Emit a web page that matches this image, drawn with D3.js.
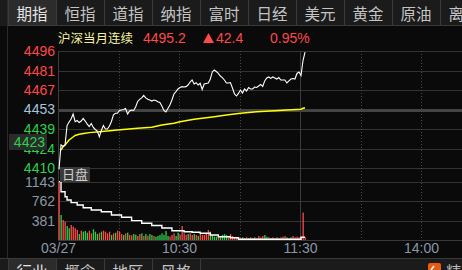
<!DOCTYPE html>
<html>
<head>
<meta charset="utf-8">
<script src="https://cdn.jsdelivr.net/npm/d3@7"></script>
<style>
  html, body { margin:0; padding:0; background:#0a0a0a; overflow:hidden; }
  svg { display:block; font-family:"Liberation Sans", Arial, "Noto Sans CJK SC", sans-serif; }
  .num { font-family:"Liberation Sans Narrow", "Arial Narrow", "Liberation Sans", sans-serif; }
  .cjk { font-family:"Noto Sans CJK SC", sans-serif; }
</style>
</head>
<body>
<div id="chart"></div>
<script>
// DATA
const topTabs = ["期指","恒指","道指","纳指","富时","日经","美元","黄金","原油","离岸"];
const bottomTabs = ["行业","概念","地区","风格"];
const title = "沪深当月连续";
const lastPrice = "4495.2", change = "42.4", changePct = "0.95%";

const priceTicks = [4496, 4481, 4467, 4453, 4439, 4424, 4410];
const volTicks = [1143, 762, 381];
const timeTicks = [0, 60, 120, 180];
const timeLabels = ["03/27", "10:30", "11:30", "14:00"];
const dottedMinutes = [30, 60, 90, 150, 180, 210];

// minute-by-minute price since 9:30 (index = minute)
const prices = [4409,4427,4425.8,4427,4441.2,4443.8,4446,4449.7,4444,4444.9,
  4443.4,4444.5,4446.4,4444.5,4442.3,4440.5,4442.7,4439.8,4438.3,4437.2,
  4433,4437.6,4441.2,4438.7,4438.7,4440.9,4444.2,4449,4450.2,4450.2,
  4452.3,4452.6,4453,4453.7,4449.7,4451.9,4452.6,4452.3,4454.8,4458.9,
  4460.4,4461.5,4463.3,4461.5,4460.5,4460,4459.2,4460,4459.6,4458.7,
  4458.1,4455.6,4452.3,4451.2,4453.7,4456.3,4460,4464.4,4466.2,4468.1,
  4469.2,4469.8,4469.5,4469.8,4471,4473.2,4474.7,4471.7,4472.7,4471,
  4472.3,4467.7,4471.7,4472.1,4472.5,4475.2,4480.6,4482,4480.9,4479.6,
  4477.6,4476.5,4474.7,4472.5,4472.5,4472.8,4468.8,4464.4,4462.9,4464.8,
  4467.3,4465.1,4468.1,4466.6,4469.2,4468.1,4468.1,4469.5,4469.2,4470.3,
  4471.4,4469.9,4474,4476.2,4476.9,4475.9,4476.9,4476.2,4475.4,4476.5,
  4474.7,4474.7,4474.7,4472.5,4474,4475.4,4475.8,4475.4,4479.5,4480.6,
  4478,4489,4495.2];

// average price line (minute, value)
const avgMinutes = [1,2,3,5,7,8,10,13,15,20,29,39,46,51,57,60,67,77,83,90,98,107,113,120,121,122];
const avgValues = [4423.2,4425.7,4426.9,4430.6,4432.8,4433.9,4434.8,4435.5,4436,4436.7,
  4437.9,4439.2,4439.9,4441.6,4442.9,4444,4445.8,4447.7,4449,4450.2,4451.4,4452.1,
  4452.7,4453.2,4453.9,4454.3];

// volume per minute and direction (1 = up/red, 0 = down/green)
const volumes = [1150,493,394,361,276,231,296,262,231,197,
  118,184,164,177,144,184,131,211,164,118,
  144,164,184,164,131,164,98,131,144,184,
  164,118,98,131,144,98,92,118,105,79,
  118,131,79,118,85,118,99,79,66,79,
  99,131,99,177,79,66,99,131,79,144,
  105,276,131,99,118,131,99,118,99,79,
  118,99,99,131,197,164,99,66,66,53,
  66,99,118,99,66,118,79,53,40,53,
  40,53,40,53,40,53,40,53,40,79,
  53,79,99,66,53,40,53,40,53,40,
  53,66,79,53,40,53,79,53,66,53,
  66,540,53];
const volUp = [1,0,1,1,0,0,1,1,1,1,
  0,1,0,0,0,1,1,0,0,0,
  1,0,1,1,1,1,0,1,0,1,
  1,1,0,1,0,1,1,0,0,1,
  1,0,1,0,1,0,0,1,0,0,
  0,0,0,0,0,1,1,1,0,0,
  1,1,1,1,0,1,1,0,1,0,
  1,1,1,1,1,0,0,0,0,1,
  0,0,0,0,1,1,1,1,1,0,
  1,0,1,1,0,1,1,0,1,1,
  1,1,0,0,1,0,1,1,0,1,
  1,1,1,0,1,0,1,1,1,1,
  1,1,1];

// open interest line in the volume panel (minute, value)
const holdMinutes = [0,1,3,4,6,9,12,16,21,26,31,36,41,46,51,56,62,66,70,75,79,85,89,119,120,122];
const holdValues = [1150,950,852,789,736,690,637,592,558,493,448,381,329,286,237,183,164,152,132,99,65,45,14,14,53,53];

// LAYOUT
const W = 462, H = 270;
const plotLeft = 58, plotRight = W;
const priceTop = 51, priceBottom = 168;
const volTop = 182, volBottom = 240;

const RED = "#ff4848", GREEN = "#2ad24a", GRID = "#333", AXIS_TXT = "#8a97a6";

const svg = d3.select("#chart").append("svg").attr("width", W).attr("height", H);
svg.append("rect").attr("width", W).attr("height", H).attr("fill", "#0a0a0a");

const x = d3.scaleLinear().domain([0, 240]).range([plotLeft, plotLeft + 484]);
const y = d3.scaleLinear().domain([4410, 4496]).range([priceBottom, priceTop]);
const yVol = d3.scaleLinear().domain([0, 1143]).range([volBottom, volTop]);
const yHold = d3.scaleLinear().domain([0, 1143]).range([volBottom, volTop]);

// top tabs
const tabW = 48, tabX0 = 8, tabH = 26;
const gTop = svg.append("g");
gTop.append("rect").attr("width", W).attr("height", tabH).attr("fill", "#1b1b1b");
gTop.selectAll("rect.tab").data(topTabs).enter().append("rect")
  .attr("class", "tab")
  .attr("x", (d, i) => tabX0 + i * tabW + 0.5).attr("y", -1)
  .attr("width", tabW).attr("height", tabH + 0.5)
  .attr("fill", (d, i) => i === 0 ? "#2c2c2c" : "#1b1b1b")
  .attr("stroke", "#3a3a3a");
gTop.selectAll("text").data(topTabs).enter().append("text")
  .attr("class", "cjk")
  .attr("x", (d, i) => tabX0 + i * tabW + tabW / 2).attr("y", 20)
  .attr("text-anchor", "middle")
  .attr("font-size", 15.5)
  .attr("fill", (d, i) => i === 0 ? "#e6e6e6" : "#c4c4c4")
  .text(d => d);
svg.append("line").attr("x1", 7.5).attr("x2", 7.5).attr("y1", 0).attr("y2", 258).attr("stroke", "#2a2a2a");

// header
const gHead = svg.append("g");
gHead.append("text").attr("class", "cjk").attr("x", 58).attr("y", 43).attr("font-size", 12.5).attr("fill", "#f4f1a0").text(title);
gHead.append("text").attr("class", "num").attr("x", 143).attr("y", 43).attr("font-size", 14).attr("fill", RED).text(lastPrice);
gHead.append("path").attr("d", "M203,43 L208.5,33 L214,43 Z").attr("fill", RED);
gHead.append("text").attr("class", "num").attr("x", 216).attr("y", 43).attr("font-size", 14).attr("fill", RED).text(change);
gHead.append("text").attr("class", "num").attr("x", 270).attr("y", 43).attr("font-size", 14).attr("fill", RED).text(changePct);

// grid
const grid = svg.append("g");
grid.selectAll("line.ph").data(priceTicks).enter().append("line")
  .attr("x1", plotLeft).attr("x2", plotRight)
  .attr("y1", d => Math.round(y(d)) + 0.5).attr("y2", d => Math.round(y(d)) + 0.5)
  .attr("stroke", d => d === 4453 ? "#444" : GRID)
  .attr("stroke-width", d => d === 4453 ? 3 : 1);
grid.selectAll("line.vh").data(volTicks).enter().append("line")
  .attr("x1", plotLeft).attr("x2", plotRight)
  .attr("y1", d => Math.round(yVol(d)) + 0.5).attr("y2", d => Math.round(yVol(d)) + 0.5)
  .attr("stroke", GRID);
grid.append("line").attr("x1", plotLeft).attr("x2", plotRight)
  .attr("y1", volBottom + 0.5).attr("y2", volBottom + 0.5).attr("stroke", "#3a3a3a");
grid.selectAll("line.dot").data(dottedMinutes).enter().append("line")
  .attr("x1", d => Math.round(x(d)) + 0.5).attr("x2", d => Math.round(x(d)) + 0.5)
  .attr("y1", priceTop).attr("y2", volBottom)
  .attr("stroke", "#4a4a4a").attr("stroke-dasharray", "1,2");
grid.append("line").attr("x1", Math.round(x(120)) + 0.5).attr("x2", Math.round(x(120)) + 0.5)
  .attr("y1", priceTop).attr("y2", volBottom).attr("stroke", "#3c3c3c");
grid.append("line").attr("x1", plotLeft + 0.5).attr("x2", plotLeft + 0.5)
  .attr("y1", priceTop).attr("y2", volBottom).attr("stroke", "#3c3c3c");

// price axis labels
const yAxisG = svg.append("g").attr("transform", `translate(${plotLeft - 2},0)`)
  .call(d3.axisLeft(y).tickValues(priceTicks).tickSize(0).tickPadding(1).tickFormat(d3.format("d")));
yAxisG.select(".domain").remove();
yAxisG.attr("font-family", null).attr("font-size", null);
yAxisG.selectAll("text").attr("class", "num").attr("font-size", 14)
  .attr("fill", d => d > 4453 ? RED : d < 4453 ? GREEN : "#a9c3dc");

// volume axis labels
const vAxisG = svg.append("g").attr("transform", `translate(${plotLeft - 2},0)`)
  .call(d3.axisLeft(yVol).tickValues(volTicks).tickSize(0).tickPadding(1).tickFormat(d3.format("d")));
vAxisG.select(".domain").remove();
vAxisG.attr("font-family", null).attr("font-size", null);
vAxisG.selectAll("text").attr("class", "num").attr("font-size", 14).attr("fill", AXIS_TXT);

// volume bars
svg.append("g").selectAll("rect").data(volumes).enter().append("rect")
  .attr("x", (d, i) => x(i) + 0.5)
  .attr("y", d => yVol(d))
  .attr("width", 1.3)
  .attr("height", d => volBottom - yVol(d))
  .attr("fill", (d, i) => volUp[i] ? RED : GREEN);

// open interest line
svg.append("path")
  .datum(holdMinutes.map((m, i) => [m, holdValues[i]]))
  .attr("fill", "none").attr("stroke", "#fff").attr("stroke-width", 1.4)
  .attr("d", d3.line().x(d => x(d[0]) + 1).y(d => yHold(d[1])).curve(d3.curveStepAfter));

// average line
svg.append("path")
  .datum(avgMinutes.map((m, i) => [m, avgValues[i]]))
  .attr("fill", "none").attr("stroke", "#ffff00").attr("stroke-width", 1.5)
  .attr("d", d3.line().x(d => x(d[0]) + 1).y(d => y(d[1])));

// price line
svg.append("path")
  .datum(prices)
  .attr("fill", "none").attr("stroke", "#fff").attr("stroke-width", 1.1)
  .attr("d", d3.line().x((d, i) => x(i) + 1).y(d => y(d)));

// 日盘 label
svg.append("rect").attr("x", 60).attr("y", 167).attr("width", 30).attr("height", 15).attr("fill", "#3a3a3a");
svg.append("text").attr("class", "cjk").attr("x", 75).attr("y", 179).attr("text-anchor", "middle")
  .attr("font-size", 13).attr("fill", "#cfcfcf").text("日盘");

// current value box
svg.append("rect").attr("x", 9).attr("y", 134).attr("width", 38).attr("height", 16).attr("fill", "#2b2b2b");
svg.append("text").attr("class", "num").attr("x", 45).attr("y", 147).attr("text-anchor", "end")
  .attr("font-size", 14).attr("fill", GREEN).text("4423");

// time axis
const xAxisG = svg.append("g").attr("transform", `translate(0,${volBottom})`)
  .call(d3.axisBottom(x).tickValues(timeTicks).tickSize(0).tickPadding(3).tickFormat((d, i) => timeLabels[i]));
xAxisG.select(".domain").remove();
xAxisG.attr("font-family", null).attr("font-size", null);
xAxisG.selectAll("text").attr("class", "num").attr("font-size", 14).attr("fill", AXIS_TXT);

// bottom tabs
const gBot = svg.append("g");
gBot.append("rect").attr("x", 0).attr("y", 258).attr("width", W).attr("height", 12).attr("fill", "#1b1b1b");
gBot.append("line").attr("x1", 0).attr("x2", W).attr("y1", 258.5).attr("y2", 258.5).attr("stroke", "#3a3a3a");
gBot.selectAll("rect.tab").data(bottomTabs).enter().append("rect")
  .attr("class", "tab")
  .attr("x", (d, i) => tabX0 + i * tabW + 0.5).attr("y", 258.5)
  .attr("width", tabW).attr("height", 14)
  .attr("fill", (d, i) => i === 0 ? "#2c2c2c" : "#1b1b1b")
  .attr("stroke", "#3a3a3a");
gBot.selectAll("text").data(bottomTabs).enter().append("text")
  .attr("class", "cjk")
  .attr("x", (d, i) => tabX0 + i * tabW + tabW / 2).attr("y", 278)
  .attr("text-anchor", "middle").attr("font-size", 15.5)
  .attr("fill", (d, i) => i === 0 ? "#e6e6e6" : "#c4c4c4")
  .text(d => d);
gBot.append("rect").attr("x", 428).attr("y", 263).attr("width", 13).attr("height", 13).attr("rx", 2).attr("fill", "#e85a0c");
gBot.append("path").attr("d", "M431,270 L434,266").attr("stroke", "#fff").attr("stroke-width", 1.5);
gBot.append("text").attr("class", "cjk").attr("x", 446).attr("y", 278).attr("font-size", 15.5).attr("fill", "#bbb").text("精选");
</script>
</body>
</html>
